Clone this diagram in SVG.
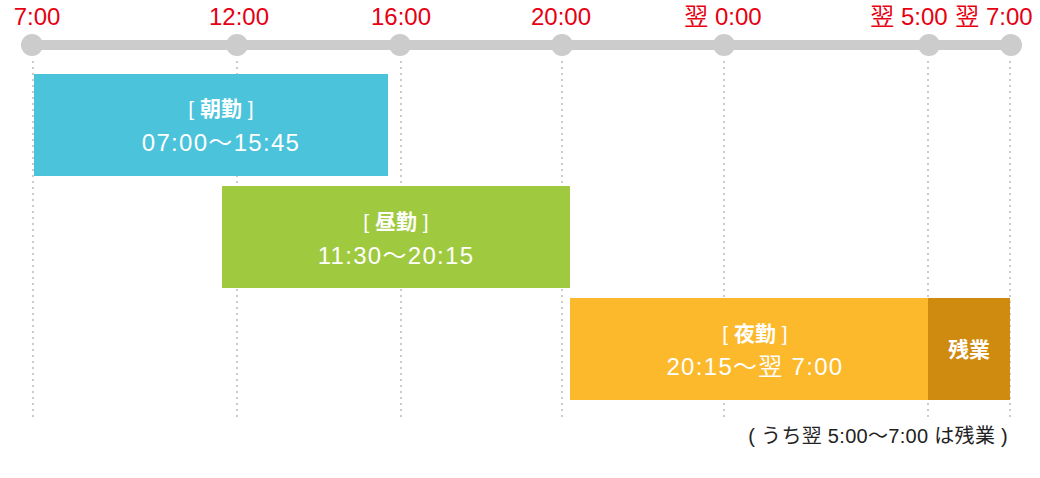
<svg xmlns="http://www.w3.org/2000/svg" width="1040" height="478" viewBox="0 0 1040 478">
<style>
.tl{font-family:"Liberation Sans","Noto Sans CJK JP",sans-serif;font-size:24px;fill:#e60012;text-anchor:middle}
.bx{font-family:"Liberation Sans","Noto Sans CJK JP",sans-serif;fill:#ffffff;text-anchor:middle}
.t1{font-size:21px}
.b{font-weight:bold}
.t2{font-size:24px;letter-spacing:1.3px}
.dot{fill:#cccccc}
.grid{stroke:#cccccc;stroke-width:2;stroke-dasharray:2 4;fill:none}
.note{font-family:"Liberation Sans","Noto Sans CJK JP",sans-serif;font-size:20px;letter-spacing:0.3px;fill:#222222;text-anchor:end}
</style>
<rect width="1040" height="478" fill="#ffffff"/>
<g id="grid">
<line class="grid" x1="33" y1="61" x2="33" y2="418"/>
<line class="grid" x1="237" y1="61" x2="237" y2="418"/>
<line class="grid" x1="401" y1="61" x2="401" y2="418"/>
<line class="grid" x1="562" y1="61" x2="562" y2="418"/>
<line class="grid" x1="724" y1="61" x2="724" y2="418"/>
<line class="grid" x1="928" y1="61" x2="928" y2="418"/>
<line class="grid" x1="1010" y1="61" x2="1010" y2="418"/>
</g>
<g id="timeline">
<rect x="32" y="40" width="980" height="10" class="dot"/>
<circle class="dot" cx="32" cy="45" r="11"/>
<circle class="dot" cx="237" cy="45" r="11"/>
<circle class="dot" cx="400" cy="45" r="11"/>
<circle class="dot" cx="562" cy="45" r="11"/>
<circle class="dot" cx="724" cy="45" r="11"/>
<circle class="dot" cx="929" cy="45" r="11"/>
<circle class="dot" cx="1011" cy="45" r="11"/>
<text class="tl" x="37" y="25">7:00</text>
<text class="tl" x="239" y="25">12:00</text>
<text class="tl" x="401" y="25">16:00</text>
<text class="tl" x="561" y="25">20:00</text>
<text class="tl" x="723" y="25">翌 0:00</text>
<text class="tl" x="909" y="25">翌 5:00</text>
<text class="tl" x="994" y="25">翌 7:00</text>
</g>
<g id="asa">
<rect x="34" y="74" width="354" height="102" fill="#4ac3db"/>
<text class="bx t1" x="221" y="116">[ <tspan class="b">朝勤</tspan> ]</text>
<text class="bx t2" x="221" y="151">07:00〜15:45</text>
</g>
<g id="hiru">
<rect x="222" y="186" width="348" height="102" fill="#9fc93f"/>
<text class="bx t1" x="396" y="229">[ <tspan class="b">昼勤</tspan> ]</text>
<text class="bx t2" x="396" y="264">11:30〜20:15</text>
</g>
<g id="yoru">
<rect x="570" y="298" width="358" height="102" fill="#fbb92b"/>
<text class="bx t1" x="755" y="341">[ <tspan class="b">夜勤</tspan> ]</text>
<text class="bx t2" x="755" y="375">20:15〜翌 7:00</text>
</g>
<g id="zangyo">
<rect x="928" y="298" width="82" height="102" fill="#cf8a10"/>
<text class="bx t1 b" x="969" y="357">残業</text>
</g>
<g id="note">
<text class="note" x="1008" y="443">( うち翌 5:00〜7:00 は残業 )</text>
</g>
</svg>
